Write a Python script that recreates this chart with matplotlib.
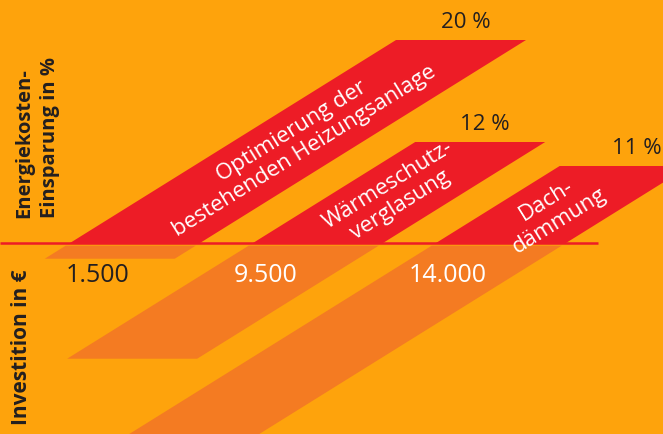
import numpy as np
import matplotlib
matplotlib.use('Agg')
import matplotlib.pyplot as plt
from matplotlib.patches import Polygon

plt.rcParams['font.family'] = ['Open Sans', 'DejaVu Sans']

# data
categories = ['Optimierung der\nbestehenden Heizungsanlage',
              'Wärmeschutz-\nverglasung',
              'Dach-\ndämmung']
savings_pct = [20, 12, 11]
invest_eur = [1500, 9500, 14000]
# the graphic is not to scale: bar lengths as drawn (axis units)
savings_len = [203, 101, 77]
invest_len = [13, 113, 200]

# colours
bg = '#FEA30C'
red = '#ED1C26'
dark_orange = '#F47B22'
ink = '#231F20'

# layout
slope = 1.606        # horizontal shift per unit of height
bar_w = 130
step = 183
x_first = 70
gap = 2.7
label_frac = [0.5, 0.47, 0.42]
pct_dx = [5, 5, 12]
invest_label_x = [98, 266, 448]

fig = plt.figure(figsize=(6.63, 4.34), dpi=100, facecolor=bg)
ax = fig.add_axes([0, 0, 1, 1])
ax.set_facecolor(bg)
ax.set_xlim(0, 663)
ax.set_ylim(-191, 243)
ax.axis('off')

angle = np.degrees(np.arctan(1 / slope))

for i, (cat, pct, eur, h_up, h_dn) in enumerate(
        zip(categories, savings_pct, invest_eur, savings_len, invest_len)):
    x0 = x_first + step * i
    # savings bar (above the line)
    up = [(x0, 0), (x0 + bar_w, 0),
          (x0 + bar_w + slope * h_up, h_up), (x0 + slope * h_up, h_up)]
    ax.add_patch(Polygon(up, closed=True, color=red, lw=0, zorder=2))
    # investment bar (below the line)
    y_top = -gap
    y_bot = -gap - h_dn
    dn = [(x0 + slope * y_top, y_top), (x0 + bar_w + slope * y_top, y_top),
          (x0 + bar_w + slope * y_bot, y_bot), (x0 + slope * y_bot, y_bot)]
    ax.add_patch(Polygon(dn, closed=True, color=dark_orange, lw=0, zorder=1))

    # category label along the bar
    yc = h_up * label_frac[i]
    ax.text(x0 + bar_w / 2 + slope * yc, yc, cat, rotation=angle,
            rotation_mode='anchor', ha='center', va='center',
            multialignment='center', color='white', fontsize=16,
            linespacing=1.18, zorder=3)

    # percentage above the bar
    ax.text(x0 + bar_w / 2 + slope * h_up + pct_dx[i], h_up + 18,
            '%d %%' % pct, ha='center', va='center', color=ink,
            fontsize=16, zorder=3)

    # investment value
    txt = '{:,}'.format(eur).replace(',', '.')
    ax.text(invest_label_x[i], -32, txt, ha='center', va='center',
            color=ink if i == 0 else 'white', fontsize=18, zorder=3)

# baseline
ax.plot([0, 598], [0, 0], color=red, lw=1.8, solid_capstyle='butt', zorder=2)

# axis titles
ax.text(37, 25, 'Energiekosten-\nEinsparung in %', rotation=90,
        ha='center', va='bottom', multialignment='left', color=ink,
        fontsize=14.5, fontweight='bold', linespacing=1.35)
ax.text(22, -182, 'Investition in €', rotation=90, ha='center',
        va='bottom', color=ink, fontsize=15, fontweight='bold')

fig.savefig('out.png', dpi=100, facecolor=bg)
